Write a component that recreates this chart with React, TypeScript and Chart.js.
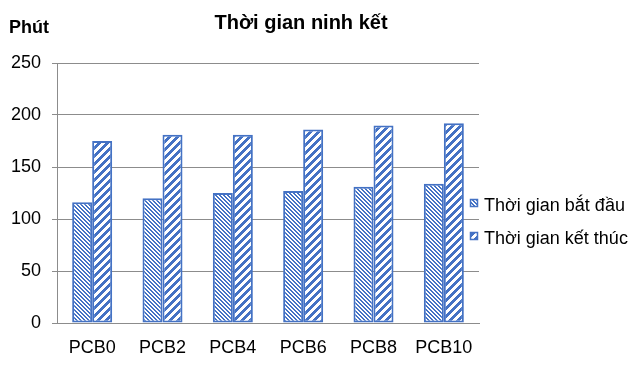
import React, { useEffect, useRef } from "react";
import { Chart, registerables } from "chart.js";

Chart.register(...registerables);

const categories = ["PCB0", "PCB2", "PCB4", "PCB6", "PCB8", "PCB10"];
const startTimes = [116, 120, 125, 127, 131, 134];
const endTimes = [175, 181, 181, 186, 190, 192];
const seriesLabels = ["Thời gian bắt đầu", "Thời gian kết thúc"];
const yTicks = [0, 50, 100, 150, 200, 250];
const chartTitle = "Thời gian ninh kết";
const yUnit = "Phút";

const BLUE = "#4472C4";
const GRID = "#8c8c8c";
const FAMILY = "'Liberation Sans', Arial, Helvetica, sans-serif";

function makePattern(
  ctx: CanvasRenderingContext2D,
  size: number,
  isOn: (x: number, y: number) => boolean
) {
  const c = document.createElement("canvas");
  c.width = size;
  c.height = size;
  const g = c.getContext("2d")!;
  g.fillStyle = "#ffffff";
  g.fillRect(0, 0, size, size);
  g.fillStyle = BLUE;
  for (let y = 0; y < size; y++) {
    for (let x = 0; x < size; x++) {
      if (isOn(x, y)) g.fillRect(x, y, 1, 1);
    }
  }
  return ctx.createPattern(c, "repeat") as CanvasPattern;
}

const overlayPlugin = {
  id: "overlayText",
  afterDraw(chart: any) {
    const ctx: CanvasRenderingContext2D = chart.ctx;
    ctx.save();
    ctx.fillStyle = "#000";
    ctx.textBaseline = "alphabetic";
    ctx.font = `bold 20px ${FAMILY}`;
    ctx.textAlign = "center";
    ctx.fillText(chartTitle, 301, 29);
    ctx.font = `bold 18px ${FAMILY}`;
    ctx.textAlign = "left";
    ctx.fillText(yUnit, 9, 33);

    chart.data.datasets.forEach((ds: any, i: number) => {
      const cy = 203 + i * 33;
      ctx.fillStyle = ds.backgroundColor;
      ctx.fillRect(470, cy - 4, 8, 8);
      ctx.strokeStyle = BLUE;
      ctx.lineWidth = 1.5;
      ctx.strokeRect(470.5, cy - 3.5, 7, 7);
      ctx.fillStyle = "#000";
      ctx.font = `18px ${FAMILY}`;
      ctx.textAlign = "left";
      ctx.textBaseline = "alphabetic";
      ctx.fillText(ds.label, 484, cy + 8);
    });
    ctx.restore();
  },
};

export default function App() {
  const canvasRef = useRef<HTMLCanvasElement | null>(null);

  useEffect(() => {
    document.body.style.margin = "0";
    const canvas = canvasRef.current!;
    const ctx = canvas.getContext("2d")!;
    const fineDown = makePattern(ctx, 4, (x, y) => {
      const m = (((x - y) % 4) + 4) % 4;
      return m === 0 || m === 1;
    });
    const wideUp = makePattern(ctx, 8, (x, y) => {
      const m = (x + y) % 8;
      return m <= 3;
    });

    const chart = new Chart(canvas, {
      type: "bar",
      data: {
        labels: categories,
        datasets: [
          {
            label: seriesLabels[0],
            data: startTimes,
            backgroundColor: fineDown as any,
            borderColor: BLUE,
            borderWidth: 2,
            borderSkipped: false,
            categoryPercentage: 0.569,
            barPercentage: 1,
          },
          {
            label: seriesLabels[1],
            data: endTimes,
            backgroundColor: wideUp as any,
            borderColor: BLUE,
            borderWidth: 2,
            borderSkipped: false,
            categoryPercentage: 0.569,
            barPercentage: 1,
          },
        ],
      },
      options: {
        animation: false,
        responsive: false,
        maintainAspectRatio: false,
        layout: { padding: { left: 0, right: 159, top: 63, bottom: 0 } },
        plugins: {
          legend: { display: false },
          title: { display: false },
          tooltip: { enabled: false },
        },
        scales: {
          x: {
            grid: { display: false, drawTicks: false },
            border: { display: true, color: GRID, width: 1 },
            ticks: {
              color: "#000",
              font: { size: 18, family: FAMILY },
              padding: 14,
              maxRotation: 0,
              autoSkip: false,
            },
            afterFit(s: any) {
              s.height = 46;
            },
          },
          y: {
            min: 0,
            max: 250,
            afterBuildTicks(s: any) {
              s.ticks = yTicks.map((v) => ({ value: v }));
            },
            ticks: {
              color: "#000",
              font: { size: 18, family: FAMILY },
              padding: 11,
            },
            grid: { color: GRID, tickLength: 5, drawTicks: true },
            border: { display: true, color: GRID, width: 1 },
            afterFit(s: any) {
              s.width = 57;
            },
          },
        },
      },
      plugins: [overlayPlugin],
    });
    return () => chart.destroy();
  }, []);

  return (
    <div style={{ width: 638, height: 369 }}>
      <canvas ref={canvasRef} width={638} height={369} style={{ display: "block" }} />
    </div>
  );
}
